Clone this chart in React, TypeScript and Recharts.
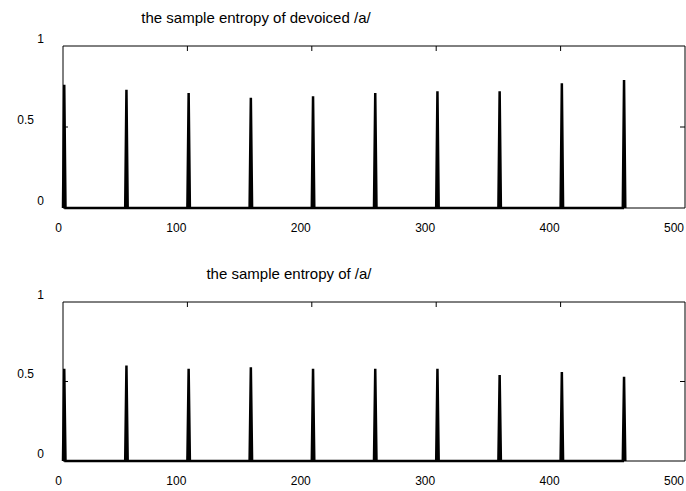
import React from "react";
import { LineChart, Line, XAxis, YAxis, ReferenceArea, ReferenceLine } from "recharts";

// spike positions (sample index) and sample entropy at each spike
const spikeX = [1, 51, 101, 151, 201, 251, 301, 351, 401, 451];
const devoicedEntropy = [0.76, 0.73, 0.71, 0.68, 0.69, 0.71, 0.72, 0.72, 0.77, 0.79];
const voicedEntropy = [0.58, 0.6, 0.58, 0.59, 0.58, 0.58, 0.58, 0.54, 0.56, 0.53];

const xTicks = [0, 100, 200, 300, 400, 500];
const yTicks = [0, 0.5, 1];
const innerXTicks = [100, 200, 300, 400];
const innerYTicks = [0.5];

const FONT = "'Liberation Sans', Arial, Helvetica, sans-serif";
const TICK_LEN = 5;

function buildSeries(values: number[]) {
  const rows: { x: number; y: number }[] = [];
  spikeX.forEach((pos, i) => {
    rows.push({ x: pos - 1, y: 0 });
    rows.push({ x: pos, y: values[i] });
    rows.push({ x: pos + 1, y: 0 });
  });
  return rows;
}

const BottomTick = (props: any) => {
  const { x, y, payload } = props;
  return (
    <text x={x - 1} y={y + 24} textAnchor="end" fontSize={12} fontFamily={FONT} fill="#000">
      {payload.value}
    </text>
  );
};

const LeftTick = (props: any) => {
  const { x, y, payload } = props;
  const v = payload.value;
  return (
    <text x={v === 0.5 ? x - 29 : x - 19} y={y - 3.5} textAnchor="end" fontSize={12} fontFamily={FONT} fill="#000">
      {v}
    </text>
  );
};

// inward tick marks at both ends of a reference line
const EndTicks = (props: any) => {
  const { x1, y1, x2, y2 } = props;
  const dx = x2 - x1;
  const dy = y2 - y1;
  const len = Math.sqrt(dx * dx + dy * dy) || 1;
  const ux = (dx / len) * TICK_LEN;
  const uy = (dy / len) * TICK_LEN;
  return (
    <g>
      <line x1={x1} y1={y1} x2={x1 + ux} y2={y1 + uy} stroke="#000" strokeWidth={1} />
      <line x1={x2} y1={y2} x2={x2 - ux} y2={y2 - uy} stroke="#000" strokeWidth={1} />
    </g>
  );
};

function Panel({ title, titleX, values, top, height, plotTop, plotBottom }: any) {
  const data = buildSeries(values);
  return (
    <div style={{ position: "absolute", left: 0, top, width: 686, height }}>
      <div
        style={{
          position: "absolute",
          left: titleX - 200,
          width: 400,
          top: plotTop - 36,
          textAlign: "center",
          fontFamily: FONT,
          fontSize: 15,
          lineHeight: "15px",
          color: "#000",
          whiteSpace: "nowrap",
        }}
      >
        {title}
      </div>
      <LineChart
        width={686}
        height={height}
        data={data}
        margin={{ top: plotTop, right: 1, left: 0, bottom: 0 }}
      >
        <XAxis
          dataKey="x"
          type="number"
          domain={[0, 500]}
          ticks={xTicks}
          height={height - plotBottom}
          axisLine={false}
          tickLine={false}
          tickSize={0}
          tickMargin={0}
          tick={<BottomTick />}
          interval={0}
        />
        <YAxis
          type="number"
          domain={[0, 1]}
          ticks={yTicks}
          width={63}
          axisLine={false}
          tickLine={false}
          tickSize={0}
          tickMargin={0}
          tick={<LeftTick />}
          interval={0}
        />
        <ReferenceArea x1={0} x2={500} y1={0} y2={1} fill="none" stroke="#000" strokeWidth={1} />
        {innerXTicks.map((v) => (
          <ReferenceLine key={`xt-${v}`} x={v} shape={<EndTicks />} />
        ))}
        {innerYTicks.map((v) => (
          <ReferenceLine key={`yt-${v}`} y={v} shape={<EndTicks />} />
        ))}
        <Line
          type="linear"
          dataKey="y"
          stroke="#000"
          strokeWidth={2.5}
          dot={false}
          activeDot={false}
          isAnimationActive={false}
        />
      </LineChart>
    </div>
  );
}

export default function App() {
  return (
    <div style={{ position: "absolute", left: 0, top: 0, width: 686, height: 491, background: "#fff" }}>
      <Panel
        title="the sample entropy of devoiced /a/"
        titleX={256}
        values={devoicedEntropy}
        top={0}
        height={250}
        plotTop={46}
        plotBottom={208}
      />
      <Panel
        title="the sample entropy of /a/"
        titleX={289}
        values={voicedEntropy}
        top={250}
        height={241}
        plotTop={52}
        plotBottom={211}
      />
    </div>
  );
}
